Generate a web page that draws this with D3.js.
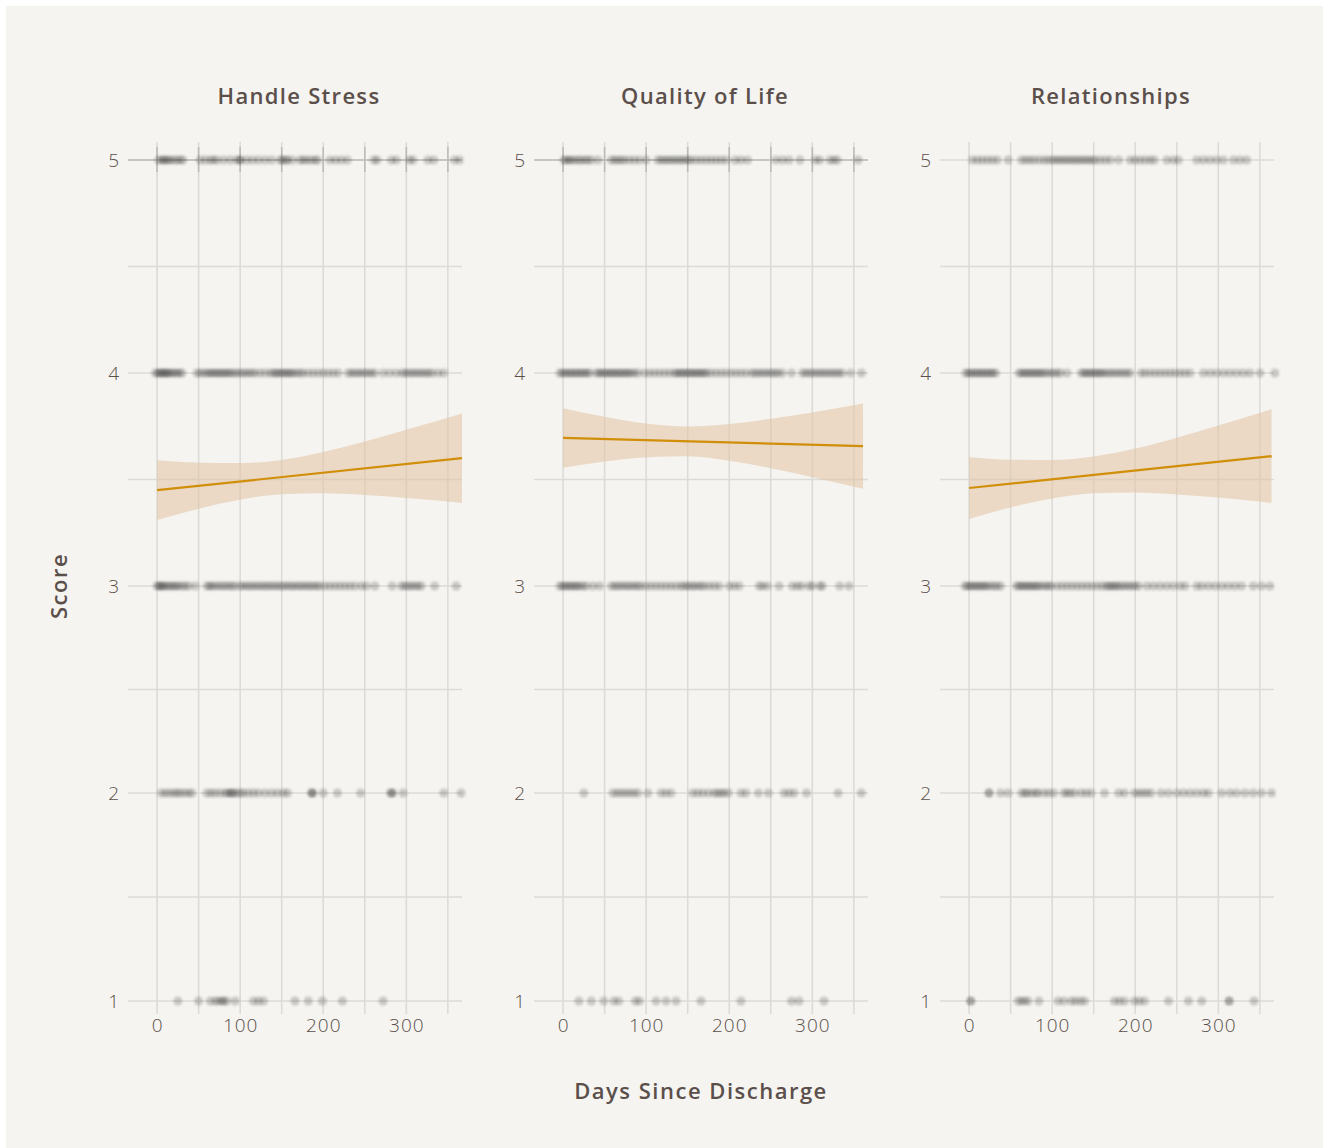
<!DOCTYPE html>
<html><head><meta charset="utf-8">
<script src="https://cdn.jsdelivr.net/npm/d3@7"></script>
<style>body{margin:0;background:#fff}svg{display:block}</style>
</head><body><svg id="c" width="1323" height="1148"></svg>
<script>
const facets = ["Handle Stress", "Quality of Life", "Relationships"];
const scoreTicks = [1, 2, 3, 4, 5];
const scoreMinor = [1.5, 2.5, 3.5, 4.5];
const dayTicks = [0, 100, 200, 300];
const dayMinor = [50, 150, 250, 350];

// Handle Stress: days since discharge for each response score
const hs5 = [2,5,8,10,13,16,20,24,28,31,52,58,64,68,72,80,88,96,99,101,108,115,122,130,138,148,151,155,157,163,172,176,180,185,190,193,208,215,222,229,261,265,282,288,304,308,326,333,358,364];
const hs4 = [-2,1,3,5,7,9,11,13,15,18,21,24,27,30,48,52,56,60,63,66,69,72,75,78,81,84,87,90,94,98,102,106,110,114,118,124,130,136,140,143,146,149,152,155,158,161,164,168,172,176,182,188,194,200,206,212,218,230,234,238,242,246,250,254,258,262,272,280,288,295,299,303,307,311,315,319,323,327,331,338,345];
const hs3 = [0,2,4,6,8,11,14,17,20,23,26,30,34,38,46,60,63,66,70,74,78,82,86,90,94,100,104,108,112,116,120,124,128,132,136,140,144,148,152,156,160,164,168,172,176,180,184,188,192,196,202,208,214,220,226,232,238,246,252,262,283,294,298,302,306,310,314,318,334,360];
const hs2 = [5,10,15,20,24,28,33,38,42,60,65,70,76,82,85,88,90,92,96,100,104,110,116,122,130,138,145,152,157,186,186,188,200,217,245,281,282,284,296,345,366];
const hs1 = [25,50,64,70,74,78,80,84,94,116,122,128,166,182,199,223,272];

// Quality of Life
const ql5 = [1,4,7,10,14,18,22,26,30,34,42,58,62,66,70,74,80,86,92,100,114,118,122,126,130,134,138,142,146,150,154,160,166,172,178,184,190,196,207,214,222,256,264,272,285,304,309,321,326,330,355];
const ql4 = [-4,-1,2,5,8,11,14,17,20,23,26,29,32,40,43,46,49,52,55,58,61,64,67,70,73,76,79,82,86,90,98,104,110,116,122,128,134,137,140,143,146,149,152,155,158,161,164,167,170,173,178,184,190,196,202,208,214,220,227,231,235,239,243,247,251,255,259,264,275,288,292,296,300,304,308,312,316,320,324,328,332,336,346,359];
const ql3 = [-4,-1,2,5,8,11,14,17,20,24,28,36,44,58,62,66,70,74,78,82,86,90,94,100,106,112,118,124,130,136,142,146,150,154,158,162,166,170,176,182,188,200,206,212,236,240,246,260,276,282,287,296,300,309,312,333,344];
const ql2 = [25,60,65,70,75,80,85,90,102,118,124,130,156,162,168,175,182,186,190,194,199,214,220,235,247,266,272,278,293,331,359];
const ql1 = [19,34,49,61,67,87,92,112,124,136,166,214,275,284,314];

// Relationships
const rl5 = [4,10,16,22,28,34,47,63,68,73,78,84,90,95,100,104,108,112,116,120,124,128,132,136,140,144,148,152,158,164,170,180,194,200,206,212,218,223,238,246,252,274,282,290,298,306,318,326,334];
const rl4 = [-4,-1,2,5,8,11,14,17,20,23,26,29,32,60,63,66,69,72,75,78,81,84,87,90,94,98,102,106,110,118,135,138,141,144,147,150,153,156,159,162,166,170,174,178,182,186,190,194,207,212,218,224,230,236,242,248,254,260,266,282,290,298,306,314,322,330,338,350,368];
const rl3 = [-5,-2,1,4,7,10,13,16,19,22,26,30,34,38,57,60,63,66,69,72,75,78,81,84,88,92,96,99,106,112,118,124,130,136,142,148,154,160,165,168,171,174,177,180,184,188,192,196,200,204,214,222,230,238,246,254,260,274,280,288,296,304,312,320,328,342,352,362];
const rl2 = [24,24,38,47,63,67,70,75,80,83,90,96,102,114,118,122,127,135,141,147,163,180,187,199,204,209,214,219,231,240,250,258,266,274,282,288,304,314,322,332,342,352,364];
const rl1 = [2,2,59,63,67,71,84,107,114,123,128,134,139,175,181,187,199,205,211,240,264,280,313,313,343];

// linear fit and 95% band
const fitStart = [3.45, 3.695, 3.46];
const fitEnd = [3.60, 3.657, 3.61];
const fitEndDay = [367, 361, 364];
const bandDays = [
  [0,50,100,150,200,250,300,367],
  [0,50,100,150,200,250,300,361],
  [0,50,100,150,200,250,300,364]
];
const bandUpper = [
  [3.590,3.579,3.577,3.592,3.629,3.678,3.733,3.810],
  [3.835,3.795,3.763,3.749,3.760,3.785,3.815,3.857],
  [3.605,3.593,3.591,3.608,3.645,3.696,3.753,3.830]
];
const bandLower = [
  [3.310,3.363,3.405,3.431,3.435,3.427,3.413,3.390],
  [3.555,3.585,3.605,3.609,3.588,3.553,3.511,3.457],
  [3.315,3.369,3.411,3.436,3.439,3.430,3.415,3.390]
];

const pointsByFacet = [
  {5: hs5, 4: hs4, 3: hs3, 2: hs2, 1: hs1},
  {5: ql5, 4: ql4, 3: ql3, 2: ql2, 1: ql1},
  {5: rl5, 4: rl4, 3: rl3, 2: rl2, 1: rl1}
];

const textCol = "#5b4f4b";
const gridCol = "#dcdbd8";
const svg = d3.select("#c");
svg.append("rect").attr("x", 6).attr("y", 6).attr("width", 1317).attr("height", 1142).attr("fill", "#f5f4f0");

const defs = svg.append("defs");
defs.append("filter").attr("id", "soft").attr("x", "-20%").attr("y", "-50%").attr("width", "140%").attr("height", "200%")
  .append("feGaussianBlur").attr("stdDeviation", 1.2);

const panelLeft = [128, 534, 940];
const panelW = 334;
const panelTop = 142, panelBottom = 1014;
const y = d3.scaleLinear().domain([1, 2, 3, 4, 5]).range([1001, 793, 586, 373, 160]);

facets.forEach((name, i) => {
  const x = d3.scaleLinear().domain([-35, 367]).range([panelLeft[i], panelLeft[i] + panelW]);
  const g = svg.append("g");
  // grid
  g.selectAll(".hg").data(scoreTicks.concat(scoreMinor)).join("line")
    .attr("x1", panelLeft[i]).attr("x2", panelLeft[i] + panelW)
    .attr("y1", d => y(d)).attr("y2", d => y(d))
    .attr("stroke", gridCol).attr("stroke-width", 1.6);
  g.selectAll(".vg").data(dayTicks.concat(dayMinor)).join("line")
    .attr("x1", d => x(d)).attr("x2", d => x(d))
    .attr("y1", panelTop).attr("y2", panelBottom)
    .attr("stroke", gridCol).attr("stroke-width", 1.6);
  if (i < 2) {
    g.append("line").attr("x1", panelLeft[i]).attr("x2", panelLeft[i] + panelW)
      .attr("y1", y(5)).attr("y2", y(5)).attr("stroke", "#bdbcb9").attr("stroke-width", 1.4);
    g.selectAll(".vt").data(dayTicks.concat(dayMinor)).join("line")
      .attr("x1", d => x(d)).attr("x2", d => x(d))
      .attr("y1", y(5) - 13).attr("y2", y(5) + 12)
      .attr("stroke", "#bdbcb9").attr("stroke-width", 1.6);
  }
  // points
  const pts = [];
  scoreTicks.forEach(s => pointsByFacet[i][s].forEach(d => pts.push({d, s})));
  g.append("g").attr("filter", "url(#soft)").selectAll("circle").data(pts).join("circle")
    .attr("cx", p => x(p.d)).attr("cy", p => y(p.s)).attr("r", 4.5)
    .attr("fill", "#383838").attr("fill-opacity", 0.23);
  // band
  const band = bandDays[i].map((d, k) => ({d, lo: bandLower[i][k], hi: bandUpper[i][k]}));
  g.append("path").datum(band)
    .attr("d", d3.area().x(b => x(b.d)).y0(b => y(b.lo)).y1(b => y(b.hi)).curve(d3.curveMonotoneX))
    .attr("fill", "#e2c3a2").attr("fill-opacity", 0.55);
  g.append("path").datum([{d: 0, v: fitStart[i]}, {d: fitEndDay[i], v: fitEnd[i]}])
    .attr("d", d3.line().x(b => x(b.d)).y(b => y(b.v)))
    .attr("stroke", "#d18e08").attr("stroke-width", 2.2).attr("fill", "none");
  // axes labels
  g.selectAll(".yl").data(scoreTicks).join("text")
    .attr("x", panelLeft[i] - 8).attr("y", d => y(d)).attr("dy", "0.35em")
    .attr("text-anchor", "end").attr("fill", textCol)
    .style("font", "300 19px 'Open Sans'").style("letter-spacing", "1px").text(d => d);
  g.selectAll(".xl").data(dayTicks).join("text")
    .attr("x", d => x(d) + 0.5).attr("y", 1032)
    .attr("text-anchor", "middle").attr("fill", textCol)
    .style("font", "300 19px 'Open Sans'").style("letter-spacing", "1px").text(d => d);
  g.append("text").attr("x", panelLeft[i] + panelW / 2 + 4).attr("y", 104)
    .attr("text-anchor", "middle").attr("fill", textCol)
    .style("font", "600 22px 'Open Sans'").style("letter-spacing", "1.3px").text(name);
});

svg.append("text").attr("transform", "translate(67,586) rotate(-90)")
  .attr("text-anchor", "middle").attr("fill", textCol)
  .style("font", "600 22px 'Open Sans'").style("letter-spacing", "1.5px").text("Score");
svg.append("text").attr("x", 701).attr("y", 1099)
  .attr("text-anchor", "middle").attr("fill", textCol)
  .style("font", "600 22px 'Open Sans'").style("letter-spacing", "1.5px").text("Days Since Discharge");
</script></body></html>
